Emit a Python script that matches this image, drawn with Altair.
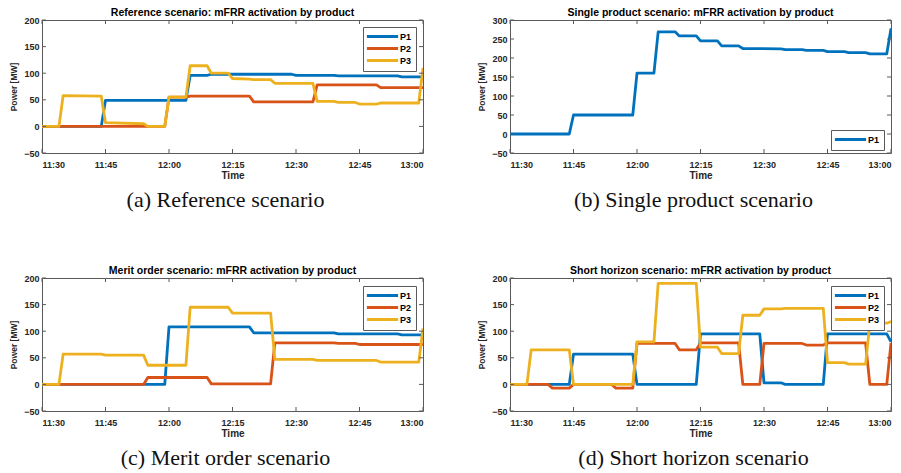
import altair as alt
import pandas as pd

# ---------------- data ----------------
X_TICKS = [0, 15, 30, 45, 60, 75, 90]          # minutes after 11:30
X_TICK_LABELS = ["11:30", "11:45", "12:00", "12:15", "12:30", "12:45", "13:00"]
Y_TICKS_STD = [-50, 0, 50, 100, 150, 200]
Y_TICKS_B = [-50, 0, 50, 100, 150, 200, 250, 300]

SERIES = ["P1", "P2", "P3"]
COLORS = ["#0072BD", "#D95319", "#EDB120"]

TITLES = [
    "Reference scenario: mFRR activation by product",
    "Single product scenario: mFRR activation by product",
    "Merit order scenario: mFRR activation by product",
    "Short horizon scenario: mFRR activation by product",
]
CAPTIONS = [
    "(a) Reference scenario",
    "(b) Single product scenario",
    "(c) Merit order scenario",
    "(d) Short horizon scenario",
]

# (a) Reference scenario
A_P1_T = [0, 14, 15, 34, 35, 39, 40, 59, 60, 69, 70, 84, 85, 90]
A_P1_V = [0, 0, 49, 49, 96, 96, 98, 98, 96, 96, 95, 95, 93, 93]
A_P2_T = [0, 29, 30, 34, 35, 49, 50, 64, 65, 79, 80, 90]
A_P2_V = [0, 0, 55, 55, 57, 57, 46, 46, 78, 78, 73, 73]
A_P3_T = [0, 4, 5, 14, 15, 24, 25, 29, 30, 34, 35, 39, 40, 44, 45, 49, 50, 54, 55, 64, 65, 69, 70, 74, 75, 79, 80, 89, 90]
A_P3_V = [0, 0, 58, 57, 7, 5, 0, 0, 55, 55, 114, 114, 100, 100, 90, 89, 88, 88, 81, 81, 47, 47, 45, 45, 42, 42, 44, 44, 110]

# (b) Single product scenario
B_P1_T = [0, 14, 15, 29, 30, 34, 35, 39, 40, 44, 45, 49, 50, 54, 55, 64, 65, 69, 70, 74, 75, 79, 80, 84, 85, 89, 90]
B_P1_V = [0, 0, 50, 50, 160, 160, 269, 269, 258, 258, 245, 245, 232, 232, 225, 224, 222, 222, 220, 220, 217, 217, 214, 214, 211, 211, 278]

# (c) Merit order scenario
C_P1_T = [0, 29, 30, 49, 50, 69, 70, 84, 85, 90]
C_P1_V = [0, 0, 108, 108, 97, 97, 95, 95, 93, 93]
C_P2_T = [0, 24, 25, 39, 40, 54, 55, 69, 70, 74, 75, 90]
C_P2_V = [0, 0, 13, 13, 1, 1, 78, 78, 77, 77, 75, 75]
C_P3_T = [0, 4, 5, 14, 15, 24, 25, 34, 35, 44, 45, 54, 55, 64, 65, 79, 80, 89, 90]
C_P3_V = [0, 0, 57, 57, 55, 55, 36, 36, 145, 145, 134, 134, 47, 47, 45, 45, 42, 42, 105]

# (d) Short horizon scenario
D_P1_T = [0, 14, 15, 29, 30, 44, 45, 59, 60, 64, 65, 74, 75, 89, 90]
D_P1_V = [0, 0, 57, 57, 0, 0, 95, 95, 3, 3, 0, 0, 95, 95, 80]
D_P2_T = [0, 9, 10, 14, 15, 24, 25, 29, 30, 39, 40, 44, 45, 54, 55, 59, 60, 69, 70, 74, 75, 84, 85, 89, 90]
D_P2_V = [0, 0, -7, -7, 0, 0, -7, -7, 77, 77, 65, 65, 78, 78, 0, 0, 77, 77, 74, 74, 78, 78, 0, 0, 78]
D_P3_T = [0, 4, 5, 14, 15, 29, 30, 34, 35, 44, 45, 49, 50, 54, 55, 59, 60, 64, 65, 74, 75, 79, 80, 84, 85, 89, 90]
D_P3_V = [0, 0, 65, 65, 0, 0, 80, 80, 190, 190, 70, 70, 58, 58, 130, 130, 142, 142, 143, 143, 41, 41, 38, 38, 115, 115, 118]

# ---------------- style ----------------
W, H = 381, 133
FRAME = "#5a5a5a"
TXT = "#262626"
SANS = "Liberation Sans"
SERIF = "Liberation Serif"
LW = 2.8

label_expr = "[" + ",".join(f"'{s}'" for s in X_TICK_LABELS) + "][round(datum.value/15)]"


def make_df(series_list):
    rows = []
    for name, ts, vs in series_list:
        for i, (t, v) in enumerate(zip(ts, vs)):
            rows.append({"series": name, "t": t, "v": v, "i": i})
    return pd.DataFrame(rows)


def panel(series_list, title, caption, ydom, yticks, legend_y):
    df = make_df(series_list)
    names = [s[0] for s in series_list]
    cols = [COLORS[SERIES.index(n)] for n in names]
    xscale = alt.Scale(domain=[0, 90], nice=False, zero=False)
    yscale = alt.Scale(domain=ydom, nice=False, zero=False)
    xaxis = alt.Axis(values=X_TICKS, labelExpr=label_expr, title="Time",
                     ticks=False, domain=False, grid=False,
                     labelFont=SANS, labelFontSize=9, labelFontWeight="bold",
                     labelColor=TXT, labelPadding=7,
                     titleFont=SANS, titleFontSize=10, titleFontWeight="bold",
                     titleColor=TXT, titlePadding=1)
    yaxis = alt.Axis(values=yticks, title="Power [MW]",
                     ticks=False, domain=False, grid=False,
                     labelFont=SANS, labelFontSize=9, labelFontWeight="bold",
                     labelColor=TXT, labelPadding=3,
                     titleFont=SANS, titleFontSize=8.5, titleFontWeight="bold",
                     titleColor=TXT, titlePadding=5)
    X = lambda: alt.X("t:Q", scale=xscale, axis=xaxis)
    Y = lambda: alt.Y("v:Q", scale=yscale, axis=yaxis)

    lines = alt.Chart(df).mark_line(strokeWidth=LW, clip=True, strokeJoin="round").encode(
        x=X(), y=Y(),
        color=alt.Color("series:N", scale=alt.Scale(domain=names, range=cols),
                        legend=alt.Legend(orient="none", legendX=321, legendY=legend_y,
                                          direction="vertical", title=None,
                                          symbolType="M-3.9,0H3.9", symbolSize=64,
                                          symbolOffset=10, symbolStrokeWidth=LW,
                                          labelFont=SANS, labelFontSize=9,
                                          labelFontWeight="bold", labelColor="#000000",
                                          labelOffset=12, rowPadding=-2.5,
                                          padding=4, strokeColor=FRAME,
                                          fillColor="white", cornerRadius=0)),
        order="i:Q",
    )

    ydf = pd.DataFrame({"v": yticks})
    xdf = pd.DataFrame({"t": X_TICKS})
    ytl = alt.Chart(ydf).mark_rule(color=FRAME, strokeWidth=1).encode(
        y=Y(), x=alt.value(0), x2=alt.value(4))
    ytr = alt.Chart(ydf).mark_rule(color=FRAME, strokeWidth=1).encode(
        y=Y(), x=alt.value(W - 4), x2=alt.value(W))
    xtb = alt.Chart(xdf).mark_rule(color=FRAME, strokeWidth=1).encode(
        x=X(), y=alt.value(H - 4), y2=alt.value(H))
    xtt = alt.Chart(xdf).mark_rule(color=FRAME, strokeWidth=1).encode(
        x=X(), y=alt.value(0), y2=alt.value(4))

    cap = alt.Chart(pd.DataFrame({"c": [caption]})).mark_text(
        font=SERIF, fontSize=22, color="#111111", align="center", baseline="alphabetic"
    ).encode(text="c:N", x=alt.value(W / 2 - 7), y=alt.value(H + 54))

    return alt.layer(lines, ytl, ytr, xtb, xtt, cap).properties(
        width=W, height=H,
        title=alt.TitleParams(title, font=SANS, fontSize=10.5, fontWeight="bold",
                              color="#000000", offset=-2, anchor="middle"),
    )


pa = panel([("P1", A_P1_T, A_P1_V), ("P2", A_P2_T, A_P2_V), ("P3", A_P3_T, A_P3_V)],
           TITLES[0], CAPTIONS[0], [-50, 200], Y_TICKS_STD, 7)
pb = panel([("P1", B_P1_T, B_P1_V)],
           TITLES[1], CAPTIONS[1], [-50, 300], Y_TICKS_B, 110)
pc = panel([("P1", C_P1_T, C_P1_V), ("P2", C_P2_T, C_P2_V), ("P3", C_P3_T, C_P3_V)],
           TITLES[2], CAPTIONS[2], [-50, 200], Y_TICKS_STD, 8)
pd_ = panel([("P1", D_P1_T, D_P1_V), ("P2", D_P2_T, D_P2_V), ("P3", D_P3_T, D_P3_V)],
            TITLES[3], CAPTIONS[3], [-50, 200], Y_TICKS_STD, 8)

chart = alt.ConcatChart(
    concat=[pa, pb, pc, pd_], columns=2,
    spacing=alt.RowColnumber(row=125, column=87), bounds="flush",
).resolve_scale(color="independent").properties(
    padding={"left": 9, "top": 7, "right": 0, "bottom": 0},
    background="white",
).configure_view(stroke=FRAME, strokeWidth=1)

chart.save("out.html", embed_options={"renderer": "svg", "actions": False})
